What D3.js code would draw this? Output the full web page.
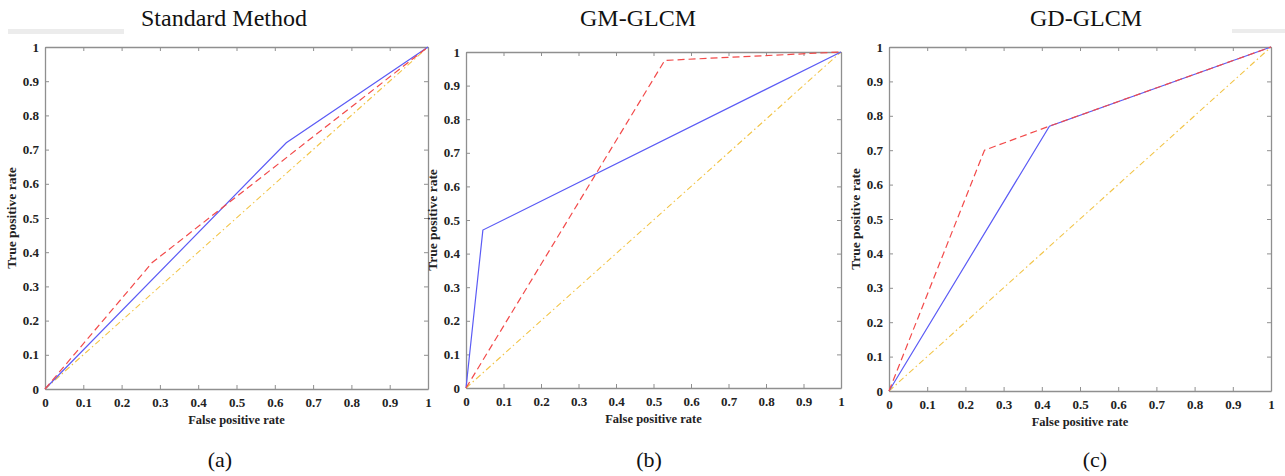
<!DOCTYPE html>
<html>
<head>
<meta charset="utf-8">
<script src="https://cdn.jsdelivr.net/npm/d3@7"></script>
<style>
  html, body { margin: 0; padding: 0; background: #fff; }
  svg { display: block; }
  text { font-family: "Liberation Serif", "Times New Roman", serif; }
</style>
</head>
<body>
<svg id="chart" width="1285" height="476"></svg>
<script>
// ROC curves for three texture-feature methods
const panelTitles = ["Standard Method", "GM-GLCM", "GD-GLCM"];
const panelTags = ["(a)", "(b)", "(c)"];
const tickValues = [0, 0.1, 0.2, 0.3, 0.4, 0.5, 0.6, 0.7, 0.8, 0.9, 1];

// Classifier A (blue, solid)
const rocBlueFpr = [[0, 0.63, 1], [0, 0.045, 1], [0, 0.42, 1]];
const rocBlueTpr = [[0, 0.72, 1], [0, 0.47, 1], [0, 0.77, 1]];
// Classifier B (red, dashed)
const rocRedFpr = [[0, 0.28, 1], [0, 0.53, 1], [0, 0.25, 0.42, 1]];
const rocRedTpr = [[0, 0.37, 1], [0, 0.975, 1], [0, 0.70, 0.77, 1]];
// Chance line (yellow, dash-dot)
const chanceFpr = [0, 1];
const chanceTpr = [0, 1];

const svg = d3.select("#chart");

// Plot-area frames for each panel
const frames = [
  { x0: 45, x1: 428, y0: 389, y1: 47, cx: 224, tagX: 220 },
  { x0: 466, x1: 841, y0: 388, y1: 52, cx: 638, tagX: 649 },
  { x0: 889, x1: 1271, y0: 391, y1: 47, cx: 1086, tagX: 1095 }
];

// faint grey strips near the titles
svg.append("rect").attr("x", 8).attr("y", 29).attr("width", 116).attr("height", 5).attr("fill", "#ececec");
svg.append("rect").attr("x", 1232).attr("y", 29).attr("width", 53).attr("height", 4).attr("fill", "#ececec");

frames.forEach((f, i) => {
  const x = d3.scaleLinear().domain([0, 1]).range([f.x0, f.x1]);
  const y = d3.scaleLinear().domain([0, 1]).range([f.y0, f.y1]);
  const g = svg.append("g");

  // title
  g.append("text").attr("x", f.cx).attr("y", 26).attr("text-anchor", "middle")
    .attr("font-size", 24).attr("fill", "#111").text(panelTitles[i]);

  // tag below
  g.append("text").attr("x", f.tagX).attr("y", 467).attr("text-anchor", "middle")
    .attr("font-size", 22).attr("fill", "#111").text(panelTags[i]);

  // axes
  const axStyle = sel => {
    sel.select(".domain").attr("stroke", "#8f8f8f").attr("stroke-width", 1.3);
    sel.selectAll(".tick line").attr("stroke", "#8f8f8f");
    sel.selectAll(".tick text").attr("font-size", 13).attr("font-weight", "bold")
      .attr("fill", "#222").attr("font-family", "'Liberation Serif', serif");
  };
  const fmt = d => d3.format("~g")(d);

  g.append("g").attr("transform", `translate(0,${f.y0})`)
    .call(d3.axisBottom(x).tickValues(tickValues).tickFormat(fmt).tickSizeInner(-4).tickSizeOuter(0).tickPadding(9))
    .call(axStyle);
  g.append("g").attr("transform", `translate(${f.x0},0)`)
    .call(d3.axisLeft(y).tickValues(tickValues).tickFormat(fmt).tickSizeInner(-4).tickSizeOuter(0).tickPadding(6))
    .call(axStyle);
  g.append("g").attr("transform", `translate(0,${f.y1})`)
    .call(d3.axisTop(x).tickValues(tickValues).tickFormat("").tickSizeInner(-4).tickSizeOuter(0))
    .call(axStyle);
  g.append("g").attr("transform", `translate(${f.x1},0)`)
    .call(d3.axisRight(y).tickValues(tickValues).tickFormat("").tickSizeInner(-4).tickSizeOuter(0))
    .call(axStyle);

  // axis labels
  g.append("text").attr("x", (f.x0 + f.x1) / 2).attr("y", f.y0 + 35).attr("text-anchor", "middle")
    .attr("font-size", 12.5).attr("font-weight", "bold").attr("fill", "#222").text("False positive rate");
  g.append("text").attr("transform", `translate(${f.x0 - 29},${(f.y0 + f.y1) / 2}) rotate(-90)`)
    .attr("text-anchor", "middle").attr("font-size", 13.5).attr("font-weight", "bold")
    .attr("fill", "#222").text("True positive rate");

  const line = d3.line().x(d => x(d[0])).y(d => y(d[1]));
  const zip = (a, b) => a.map((v, k) => [v, b[k]]);

  g.append("path").datum(zip(chanceFpr, chanceTpr)).attr("d", line)
    .attr("fill", "none").attr("stroke", "#f2c447").attr("stroke-width", 1.1)
    .attr("stroke-dasharray", "6,3,1.5,3");
  g.append("path").datum(zip(rocBlueFpr[i], rocBlueTpr[i])).attr("d", line)
    .attr("fill", "none").attr("stroke", "#5b5bf5").attr("stroke-width", 1.2);
  g.append("path").datum(zip(rocRedFpr[i], rocRedTpr[i])).attr("d", line)
    .attr("fill", "none").attr("stroke", "#f24a4a").attr("stroke-width", 1.2)
    .attr("stroke-dasharray", "7,4");
});
</script>
</body>
</html>
